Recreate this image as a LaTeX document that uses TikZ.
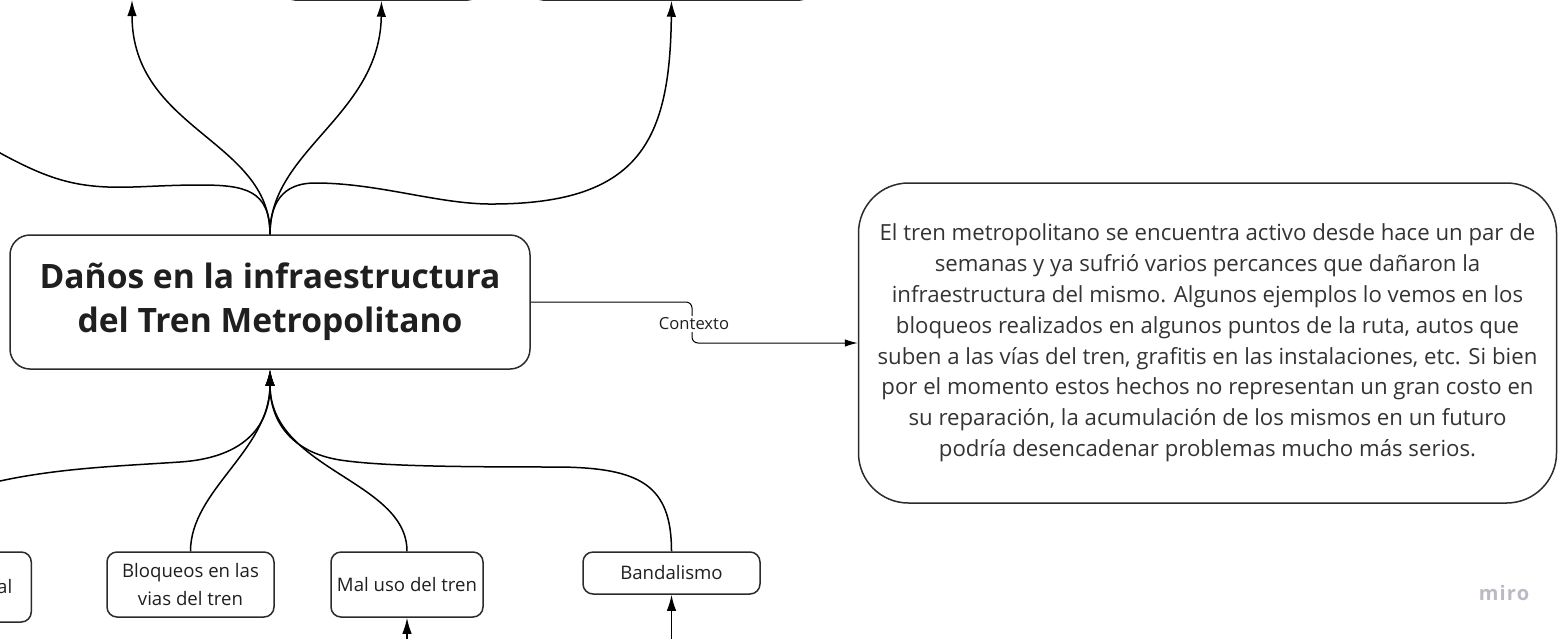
\documentclass[tikz,border=0pt]{standalone}
\usepackage{fontspec}
\setmainfont{Open Sans}
\newfontfamily\mirofont[LetterSpace=6]{Open Sans}
\usetikzlibrary{arrows.meta}
\definecolor{boxline}{HTML}{2B2B2B}
\definecolor{txt}{HTML}{1F1F1F}
\definecolor{mirogray}{HTML}{B9BAC6}
\tikzset{
  box/.style={draw=boxline, line width=1.5pt, rounded corners=10pt, fill=white,
    align=center, inner sep=0pt, text=txt},
  conn/.style={line width=1.5pt, draw=black},
  arr/.style={-{Latex[length=16pt,width=9.5pt]}},
  smalltext/.style={font=\fontsize{18.6}{28}\selectfont}
}
\begin{document}
\begin{tikzpicture}[x=1pt,y=-1pt]
\useasboundingbox (0,0) rectangle (1565,638);
\clip (0,0) rectangle (1565,638);

% main node
\node[box, rounded corners=20pt, minimum width=520pt, minimum height=134pt,
  font=\fontsize{33.6}{44}\selectfont\bfseries] (main) at (270,302)
  {Daños en la infraestructura\\del Tren Metropolitano};

% context node
\node[box, rounded corners=50pt, minimum width=698pt, minimum height=320pt,
  font=\fontsize{22.2}{30.8}\selectfont, text=black!80] (ctx) at (1207.5,343)
  {El tren metropolitano se encuentra activo desde hace un par de\\
   semanas y ya sufrió varios percances que dañaron la\\
   infraestructura del mismo. Algunos ejemplos lo vemos en los\\
   bloqueos realizados en algunos puntos de la ruta, autos que\\
   suben a las vías del tren, grafitis en las instalaciones, etc. Si bien\\
   por el momento estos hechos no representan un gran costo en\\
   su reparación, la acumulación de los mismos en un futuro\\
   podría desencadenar problemas mucho más serios.};

% top boxes (mostly off canvas)
\node[box, minimum width=193pt, minimum height=60pt, anchor=south] (t2) at (381.5,0.75) {};
\node[box, minimum width=277pt, minimum height=60pt, anchor=south] (t3) at (671.5,0.75) {};
\coordinate (t1) at (132,0);
\coordinate (l0) at (-40,130);

% bottom boxes
\node[box, smalltext, anchor=east, minimum width=190pt, minimum height=70pt,
  text width=152pt, align=right] (b1) at (32,587) {al};
\node[box, smalltext, minimum width=167pt, minimum height=65pt] (b2) at (190.5,584.5)
  {Bloqueos en las\\vias del tren};
\node[box, smalltext, minimum width=152pt, minimum height=65pt] (b3) at (407,584.5)
  {Mal uso del tren};
\node[box, smalltext, minimum width=177pt, minimum height=42pt] (b4) at (671.5,573)
  {Bandalismo};
\coordinate (u3) at (407,660);
\coordinate (u4) at (671.5,660);

% top connectors
\draw[conn, arr] (main.north) .. controls (270,140) and (132,130) .. (t1);
\draw[conn, arr] (main.north) .. controls (270,150) and (380,115) .. (t2.south);
\draw[conn, arr] (main.north) .. controls (270,195) and (290,183) .. (315,183)
  .. controls (380,183) and (440,205) .. (495,204)
  .. controls (640,203) and (670,140) .. (t3.south);
\draw[conn, arr] (main.north) .. controls (270,190) and (245,185) .. (200,185)
  .. controls (150,185) and (120,190) .. (85,185)
  .. controls (50,180) and (20,165) .. (l0);

% bottom connectors
\draw[conn, arr] (b2.north) .. controls (190.5,490) and (270,450) .. (main.south);
\draw[conn, arr] (b3.north) .. controls (407,480) and (270,470) .. (main.south);
\draw[conn, arr] (b1.north) .. controls (-63,505) and (-30,488) .. (0,481)
  .. controls (60,468) and (120,466) .. (180,462)
  .. controls (240,458) and (270,430) .. (main.south);
\draw[conn, arr] (b4.north) .. controls (671.5,485) and (640,468) .. (560,467)
  .. controls (450,467) and (380,466) .. (340,460)
  .. controls (290,452) and (270,420) .. (main.south);
\draw[conn, arr] (u3) -- (b3.south);
\draw[conn, arr] (u4) -- (b4.south);

% context connector
\draw[line width=1pt, rounded corners=6pt, -{Latex[length=13pt,width=7.5pt]}]
  (main.east) -| (692,322) |- (ctx.west);
\node[fill=white, inner sep=1.5pt, text=txt, font=\fontsize{16.6}{18}\selectfont] (lbl) at (694,324) {Contexto};

% watermark
\node[text=mirogray, font=\mirofont\fontsize{20}{22}\selectfont\bfseries] (logo) at (1504,593) {miro};
\end{tikzpicture}
\end{document}
